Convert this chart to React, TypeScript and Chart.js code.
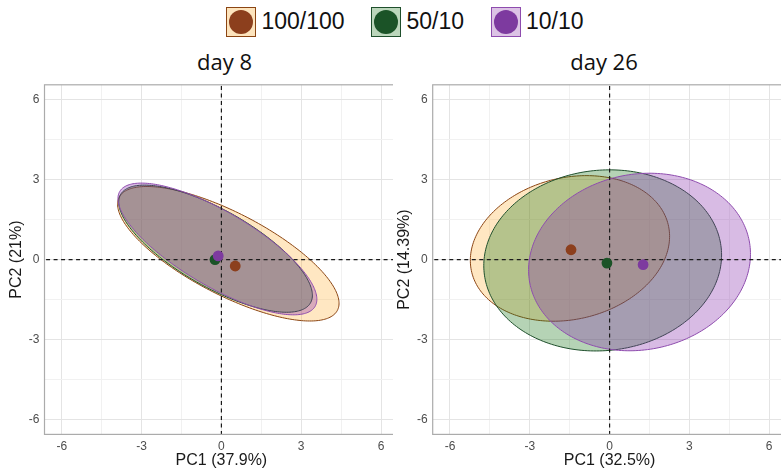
import React, { useEffect, useRef } from 'react';
import { Chart, registerables } from 'chart.js';

Chart.register(...registerables);

// Treatment groups, in legend / drawing order
const GROUPS = ['100/100', '50/10', '10/10'];
const POINT_COLORS = ['#8c3f1d', '#1b5327', '#7d3a9f'];
const LINE_COLORS = ['#8b4513', '#1f4f2c', '#8e4cae'];
const FILL_COLORS = ['rgba(255,170,35,0.28)', 'rgba(30,120,30,0.33)', 'rgba(135,45,170,0.32)'];
const KEY_FILLS = ['#fde4bd', '#bbd6bb', '#dcc3e5'];

const TICK_VALUES = [-6, -3, 0, 3, 6];
const X_RANGE = [-6.65, 6.65];
const Y_RANGE = [-6.57, 6.57];

// day 8: group centroids on the first two components
const DAY8_MEAN_X = [0.52, -0.24, -0.12];
const DAY8_MEAN_Y = [-0.24, 0.0, 0.14];
// day 8: confidence ellipses (centre, semi-axes, rotation in degrees)
const DAY8_ELL_CX = [0.26, -0.22, -0.15];
const DAY8_ELL_CY = [0.22, 0.41, 0.4];
const DAY8_ELL_A = [4.62, 4.11, 4.26];
const DAY8_ELL_B = [1.54, 1.44, 1.4];
const DAY8_ELL_ANGLE = [-27.4, -29.7, -30.5];

// day 26: group centroids
const DAY26_MEAN_X = [-1.45, -0.1, 1.26];
const DAY26_MEAN_Y = [0.37, -0.13, -0.19];
// day 26: confidence ellipses
const DAY26_ELL_CX = [-1.49, -0.26, 1.125];
const DAY26_ELL_CY = [0.42, -0.03, -0.09];
const DAY26_ELL_A = [3.8, 4.48, 4.2];
const DAY26_ELL_B = [2.66, 3.39, 3.3];
const DAY26_ELL_ANGLE = [13.7, 6.0, 10.9];

const PANEL_TITLES = ['day 8', 'day 26'];
const PC1_TITLES = ['PC1 (37.9%)', 'PC1 (32.5%)'];
const PC2_TITLES = ['PC2 (21%)', 'PC2 (14.39%)'];

type PanelSpec = {
  xTitle: string;
  yTitle: string;
  meanX: number[];
  meanY: number[];
  ellCx: number[];
  ellCy: number[];
  ellA: number[];
  ellB: number[];
  ellAngle: number[];
};

const PANELS: PanelSpec[] = [
  {
    xTitle: PC1_TITLES[0], yTitle: PC2_TITLES[0],
    meanX: DAY8_MEAN_X, meanY: DAY8_MEAN_Y,
    ellCx: DAY8_ELL_CX, ellCy: DAY8_ELL_CY, ellA: DAY8_ELL_A, ellB: DAY8_ELL_B, ellAngle: DAY8_ELL_ANGLE,
  },
  {
    xTitle: PC1_TITLES[1], yTitle: PC2_TITLES[1],
    meanX: DAY26_MEAN_X, meanY: DAY26_MEAN_Y,
    ellCx: DAY26_ELL_CX, ellCy: DAY26_ELL_CY, ellA: DAY26_ELL_A, ellB: DAY26_ELL_B, ellAngle: DAY26_ELL_ANGLE,
  },
];

const SANS = '"Liberation Sans", Arial, Helvetica, sans-serif';
const CANVAS_W = 410;
const CANVAS_H = 476;
const PLOT_SIZE = 353.8;
const PLOT_TOP = 84.8;
const PLOT_BOTTOM = 434.4;

const isMajor = (v: number) => Math.abs(v / 3 - Math.round(v / 3)) < 1e-6;

function PcaPanel({ spec, axisWidth, yTitlePad }: { spec: PanelSpec; axisWidth: number; yTitlePad: number }) {
  const ref = useRef<HTMLCanvasElement>(null);

  useEffect(() => {
    const canvas = ref.current;
    if (!canvas) return;

    const ellipses = {
      id: 'groupEllipses',
      beforeDatasetsDraw(chart: any) {
        const { ctx, chartArea, scales } = chart;
        const xs = scales.x;
        const ys = scales.y;
        ctx.save();
        ctx.beginPath();
        ctx.rect(chartArea.left, chartArea.top, chartArea.right - chartArea.left, chartArea.bottom - chartArea.top);
        ctx.clip();
        GROUPS.forEach((_, g) => {
          const rot = (spec.ellAngle[g] * Math.PI) / 180;
          const c = Math.cos(rot);
          const s = Math.sin(rot);
          ctx.beginPath();
          const steps = 240;
          for (let i = 0; i <= steps; i++) {
            const t = (i / steps) * Math.PI * 2;
            const u = spec.ellA[g] * Math.cos(t);
            const v = spec.ellB[g] * Math.sin(t);
            const px = xs.getPixelForValue(spec.ellCx[g] + u * c - v * s);
            const py = ys.getPixelForValue(spec.ellCy[g] + u * s + v * c);
            if (i === 0) ctx.moveTo(px, py);
            else ctx.lineTo(px, py);
          }
          ctx.closePath();
          ctx.fillStyle = FILL_COLORS[g];
          ctx.fill();
          ctx.lineWidth = 1;
          ctx.strokeStyle = LINE_COLORS[g];
          ctx.stroke();
        });
        ctx.restore();
      },
    };

    const frame = {
      id: 'panelFrame',
      afterDatasetsDraw(chart: any) {
        const { ctx, chartArea } = chart;
        ctx.save();
        ctx.strokeStyle = '#ababab';
        ctx.lineWidth = 1.2;
        ctx.strokeRect(chartArea.left, chartArea.top, chartArea.right - chartArea.left, chartArea.bottom - chartArea.top);
        ctx.restore();
      },
    };

    const gridColor = (c: any) => (c.tick && isMajor(c.tick.value) ? '#e4e4e4' : '#f1f1f1');
    const tickLabel = (v: any) => (isMajor(Number(v)) && TICK_VALUES.includes(Math.round(Number(v))) ? String(Math.round(Number(v))) : '');

    const pointSets = GROUPS.map((name, g) => ({
      type: 'scatter' as const,
      label: name,
      data: [{ x: spec.meanX[g], y: spec.meanY[g] }],
      backgroundColor: POINT_COLORS[g],
      borderWidth: 0,
      pointRadius: 5.4,
      order: 3 - g,
    }));

    const refLine = (data: { x: number; y: number }[]) => ({
      type: 'line' as const,
      label: '',
      data,
      showLine: true,
      borderColor: '#1a1a1a',
      borderWidth: 1.2,
      borderDash: [4, 3.5],
      pointRadius: 0,
      fill: false,
      order: 10,
    });

    const chart = new Chart(canvas, {
      type: 'scatter',
      data: {
        datasets: [
          ...pointSets,
          refLine([{ x: 0, y: -8 }, { x: 0, y: 8 }]),
          refLine([{ x: -8, y: 0 }, { x: 8, y: 0 }]),
        ] as any,
      },
      options: {
        responsive: false,
        animation: false,
        events: [],
        layout: {
          padding: {
            left: 0,
            top: PLOT_TOP,
            right: CANVAS_W - (axisWidth + PLOT_SIZE),
            bottom: 0,
          },
        },
        plugins: {
          legend: { display: false },
          tooltip: { enabled: false },
          title: { display: false },
        },
        scales: {
          x: {
            type: 'linear',
            min: X_RANGE[0],
            max: X_RANGE[1],
            border: { display: false },
            grid: { color: gridColor, lineWidth: 1, drawTicks: false },
            ticks: {
              stepSize: 1.5,
              includeBounds: false,
              autoSkip: false,
              maxRotation: 0,
              padding: 5,
              color: '#4d4d4d',
              font: { family: SANS, size: 12 },
              callback: tickLabel,
            },
            title: {
              display: true,
              text: spec.xTitle,
              color: '#1a1a1a',
              font: { family: SANS, size: 16 },
              padding: { top: 0, bottom: 5.7 },
            },
            afterFit: (scale: any) => {
              scale.height = CANVAS_H - PLOT_BOTTOM;
            },
          },
          y: {
            type: 'linear',
            min: Y_RANGE[0],
            max: Y_RANGE[1],
            border: { display: false },
            grid: { color: gridColor, lineWidth: 1, drawTicks: false },
            ticks: {
              stepSize: 1.5,
              includeBounds: false,
              autoSkip: false,
              padding: 5,
              color: '#4d4d4d',
              font: { family: SANS, size: 12 },
              callback: tickLabel,
            },
            title: {
              display: true,
              text: spec.yTitle,
              color: '#1a1a1a',
              font: { family: SANS, size: 16 },
              padding: { top: yTitlePad, bottom: 0 },
            },
            afterFit: (scale: any) => {
              scale.width = axisWidth;
            },
          },
        },
      },
      plugins: [ellipses, frame],
    } as any);

    return () => chart.destroy();
  }, [spec, axisWidth, yTitlePad]);

  return <canvas ref={ref} width={CANVAS_W} height={CANVAS_H} style={{ display: 'block' }} />;
}

function LegendKey({ g, boxLeft, textLeft }: { g: number; boxLeft: number; textLeft: number }) {
  return (
    <>
      <div
        style={{
          position: 'absolute',
          left: boxLeft,
          top: 7,
          width: 30,
          height: 30,
          boxSizing: 'border-box',
          border: `1.5px solid ${LINE_COLORS[g]}`,
          background: KEY_FILLS[g],
        }}
      >
        <div
          style={{
            position: 'absolute',
            left: 1.5,
            top: 1.5,
            width: 24,
            height: 24,
            borderRadius: '50%',
            background: POINT_COLORS[g],
          }}
        />
      </div>
      <div
        style={{
          position: 'absolute',
          left: textLeft,
          top: 6,
          height: 30,
          lineHeight: '30px',
          fontFamily: SANS,
          fontSize: 23,
          color: '#111',
          whiteSpace: 'nowrap',
        }}
      >
        {GROUPS[g]}
      </div>
    </>
  );
}

const KEY_BOX_LEFT = [226, 371, 491];
const KEY_TEXT_LEFT = [261.5, 406.5, 526];
const TITLE_CENTERS = [224.5, 604];

export default function App() {
  return (
    <div
      style={{
        position: 'absolute',
        left: 0,
        top: 0,
        width: 781,
        height: 476,
        overflow: 'hidden',
        background: '#ffffff',
      }}
    >
      {GROUPS.map((_, g) => (
        <LegendKey key={g} g={g} boxLeft={KEY_BOX_LEFT[g]} textLeft={KEY_TEXT_LEFT[g]} />
      ))}
      {PANEL_TITLES.map((t, i) => (
        <div
          key={t}
          style={{
            position: 'absolute',
            left: TITLE_CENTERS[i] - 100,
            top: 47.5,
            width: 200,
            textAlign: 'center',
            lineHeight: '26px',
            fontFamily: '"Open Sans", "Noto Sans", sans-serif',
            fontSize: 22,
            color: '#111',
          }}
        >
          {t}
        </div>
      ))}
      <div style={{ position: 'absolute', left: 0, top: 0, width: 393, height: 476, overflow: 'hidden' }}>
        <PcaPanel spec={PANELS[0]} axisWidth={44.5} yTitlePad={7.4} />
      </div>
      <div style={{ position: 'absolute', left: 393, top: 0, width: 388, height: 476, overflow: 'hidden' }}>
        <PcaPanel spec={PANELS[1]} axisWidth={39.7} yTitlePad={2.4} />
      </div>
    </div>
  );
}
